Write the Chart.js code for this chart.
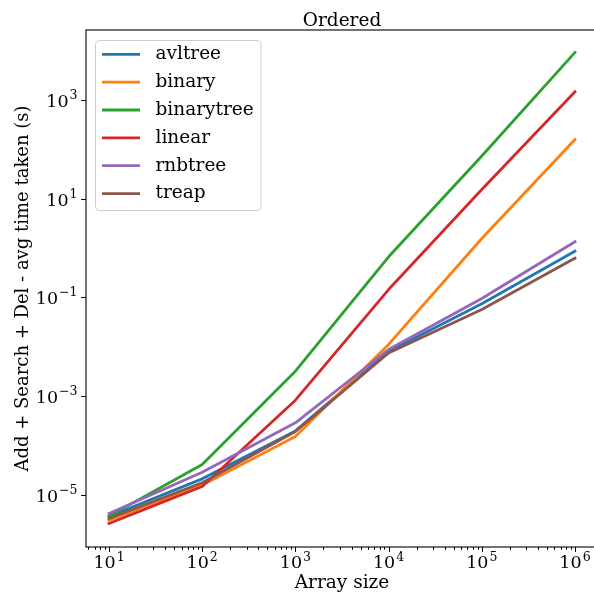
<!DOCTYPE html>
<html>
<head>
<meta charset="utf-8">
<script src="https://cdn.jsdelivr.net/npm/chart.js@4/dist/chart.umd.min.js"></script>
<style>
  html, body { margin: 0; padding: 0; overflow: hidden; background: #fff; }
  #wrap { width: 594px; height: 593px; overflow: hidden; }
  canvas { display: block; }
</style>
</head>
<body>
<div id="wrap"><canvas id="chart1" width="610" height="593"></canvas></div>
<script>
// array sizes and average add+search+del times (seconds)
var sizes = [10, 100, 1000, 10000, 100000, 1000000];
var avltree = [3.58e-6, 2.08e-5, 1.95e-4, 7.97e-3, 0.074, 0.865];
var binary = [3.02e-6, 1.55e-5, 1.5e-4, 0.0111, 1.56, 159];
var binarytree = [3.63e-6, 4.06e-5, 3.18e-3, 0.665, 73.8, 9290];
var linear = [2.58e-6, 1.45e-5, 8.2e-4, 0.144, 15.4, 1480];
var rnbtree = [4.12e-6, 2.84e-5, 2.85e-4, 8.75e-3, 0.0948, 1.34];
var treap = [3.26e-6, 1.73e-5, 1.9e-4, 7.43e-3, 0.0567, 0.622];

var names = ["avltree", "binary", "binarytree", "linear", "rnbtree", "treap"];
var colors = ["#1f77b4", "#ff7f0e", "#2ca02c", "#d62728", "#9467bd", "#8c564b"];

// tick exponents
var xExps = [1, 2, 3, 4, 5, 6];
var yExps = [-5, -3, -1, 1, 3];

var FONT = '"DejaVu Serif", "Liberation Serif", serif';

function points(vals) {
	return vals.map(function (v, i) { return {x: sizes[i], y: v}; });
}

var series = [avltree, binary, binarytree, linear, rnbtree, treap];
var datasets = series.map(function (vals, i) {
	return {
		label: names[i],
		data: points(vals),
		borderColor: colors[i],
		backgroundColor: colors[i],
		borderWidth: 2.8,
		pointRadius: 0,
		tension: 0,
		borderJoinStyle: "round",
		borderCapStyle: "square",
		order: series.length - i
	};
});

// draws "10" with a raised exponent
function drawPow(ctx, exp, x, y, align) {
	var base = "10";
	var sup = String(exp).replace("-", "\u2212");
	ctx.font = "17.5px " + FONT;
	var wb = ctx.measureText(base).width;
	ctx.font = "12.5px " + FONT;
	var ws = ctx.measureText(sup).width;
	var total = wb + ws + 1;
	var left = align === "right" ? x - total : x - total / 2;
	ctx.textAlign = "left";
	ctx.textBaseline = "alphabetic";
	ctx.font = "17.5px " + FONT;
	ctx.fillText(base, left, y);
	ctx.font = "12.5px " + FONT;
	ctx.fillText(sup, left + wb + 1, y - 7.5);
}

var decorations = {
	id: "decorations",
	afterDraw: function (chart) {
		var ctx = chart.ctx;
		var a = chart.chartArea;
		var xs = chart.scales.x, ys = chart.scales.y;
		ctx.save();
		ctx.fillStyle = "#000";
		ctx.strokeStyle = "#000";

		// spines
		ctx.lineWidth = 1.1;
		ctx.strokeRect(a.left, a.top, a.right - a.left, a.bottom - a.top);

		// x ticks, major and minor
		ctx.lineWidth = 1;
		var lo = Math.floor(Math.log10(xs.min)), hi = Math.ceil(Math.log10(xs.max));
		for (var e = lo; e <= hi; e++) {
			for (var k = 1; k < 10; k++) {
				var v = k * Math.pow(10, e);
				if (v < xs.min || v > xs.max) continue;
				var px = Math.round(xs.getPixelForValue(v)) + 0.5;
				var len = k === 1 ? 4.9 : 2.8;
				ctx.beginPath();
				ctx.moveTo(px, a.bottom);
				ctx.lineTo(px, a.bottom + len);
				ctx.stroke();
			}
		}
		xExps.forEach(function (e) {
			var px = xs.getPixelForValue(Math.pow(10, e));
			drawPow(ctx, e, px, 568, "center");
		});

		// y ticks
		yExps.forEach(function (e) {
			var py = Math.round(ys.getPixelForValue(Math.pow(10, e))) + 0.5;
			ctx.beginPath();
			ctx.moveTo(a.left, py);
			ctx.lineTo(a.left - 4.9, py);
			ctx.stroke();
			drawPow(ctx, e, 77.5, py + 6, "right");
		});

		// title and axis labels
		ctx.font = "18.5px " + FONT;
		ctx.textAlign = "center";
		ctx.textBaseline = "alphabetic";
		var cx = (a.left + a.right) / 2;
		ctx.fillText("Ordered", cx, 25.5);
		ctx.fillText("Array size", cx, 588);
		ctx.save();
		ctx.translate(28, (a.top + a.bottom) / 2);
		ctx.rotate(-Math.PI / 2);
		ctx.font = "18px " + FONT;
		ctx.fillText("Add + Search + Del - avg time taken (s)", 0, 0);
		ctx.restore();

		// legend
		var bx = 95.5, by = 40.5, bw = 165.5, bh = 170;
		ctx.beginPath();
		ctx.roundRect(bx, by, bw, bh, 4);
		ctx.fillStyle = "rgba(255,255,255,0.8)";
		ctx.fill();
		ctx.strokeStyle = "#cccccc";
		ctx.lineWidth = 1;
		ctx.stroke();
		ctx.font = "18.5px " + FONT;
		ctx.textAlign = "left";
		ctx.textBaseline = "middle";
		names.forEach(function (n, i) {
			var ly = 54.3 + i * 27.85;
			ctx.strokeStyle = colors[i];
			ctx.lineWidth = 2.8;
			ctx.beginPath();
			ctx.moveTo(102, ly);
			ctx.lineTo(140, ly);
			ctx.stroke();
			ctx.fillStyle = "#000";
			ctx.fillText(n, 155.5, ly);
		});
		ctx.restore();
	}
};

var myChart1 = document.getElementById("chart1").getContext("2d");
var chart1 = new Chart(myChart1, {
	type: "line",
	data: {datasets: datasets},
	options: {
		responsive: false,
		animation: false,
		devicePixelRatio: 1,
		layout: {padding: {left: 86, top: 30, right: 12, bottom: 46}},
		plugins: {legend: {display: false}, title: {display: false}, tooltip: {enabled: false}},
		scales: {
			x: {type: "logarithmic", display: false, min: Math.pow(10, 0.753), max: Math.pow(10, 6.247)},
			y: {type: "logarithmic", display: false, min: Math.pow(10, -6.065), max: Math.pow(10, 4.424)}
		}
	},
	plugins: [decorations]
});
</script>
</body>
</html>
